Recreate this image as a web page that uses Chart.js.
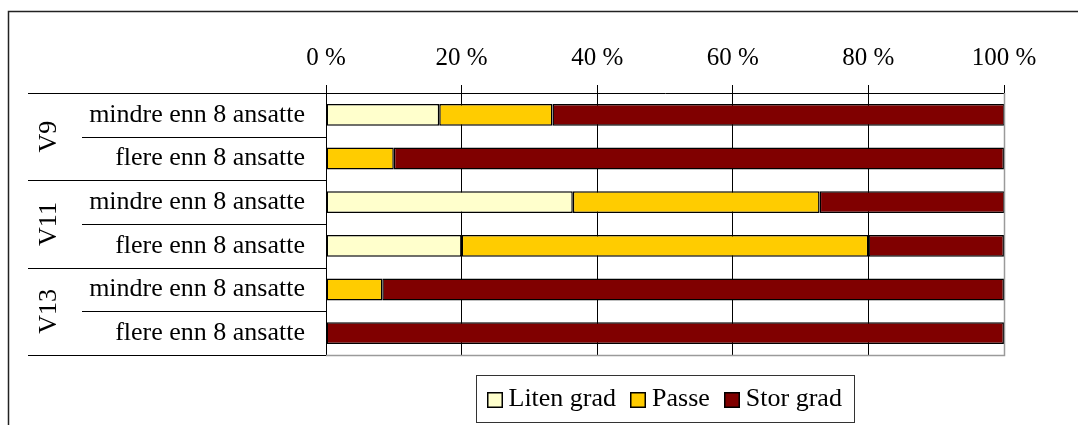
<!DOCTYPE html>
<html>
<head>
<meta charset="utf-8">
<script src="https://cdn.jsdelivr.net/npm/chart.js@4/dist/chart.umd.min.js"></script>
<style>
  html, body { margin: 0; padding: 0; background: #fff; }
  #wrap { width: 1078px; height: 425px; position: relative; }
</style>
</head>
<body>
<div id="wrap"><canvas id="chart" width="1078" height="425"></canvas></div>
<script>
// Rows of the chart, top to bottom
const categories = [
  'mindre enn 8 ansatte', 'flere enn 8 ansatte',
  'mindre enn 8 ansatte', 'flere enn 8 ansatte',
  'mindre enn 8 ansatte', 'flere enn 8 ansatte'
];
// Each group spans two consecutive rows
const groups = ['V9', 'V11', 'V13'];
const rowsPerGroup = 2;

// Share of answers (%) per row
const litenGrad = [16.7, 0, 36.4, 20, 0, 0];
const passe     = [16.7, 10, 36.4, 60, 8.3, 0];
const storGrad  = [66.7, 90, 27.3, 20, 91.7, 100];

const seriesNames = ['Liten grad', 'Passe', 'Stor grad'];
const xTickValues = [0, 20, 40, 60, 80, 100];
const tickSuffix = ' %';

const FONT = "'Liberation Serif', 'Times New Roman', serif";
const LABEL_SIZE = 26;
const TICK_SIZE = 25;

Chart.defaults.font.family = FONT;
Chart.defaults.font.size = LABEL_SIZE;
Chart.defaults.color = '#000';

// Outer frame, row/group separators, rotated group names and boxed legend
const decorations = {
  id: 'decorations',
  afterDraw(chart) {
    const { ctx } = chart;
    const x = chart.scales.x;
    const y = chart.scales.y;
    const n = chart.data.labels.length;
    const step = y.getPixelForValue(1) - y.getPixelForValue(0);
    ctx.save();

    // frame around the whole figure
    ctx.strokeStyle = '#222';
    ctx.lineWidth = 1.5;
    ctx.beginPath();
    ctx.moveTo(8.5, 440);
    ctx.lineTo(8.5, 11.5);
    ctx.lineTo(1090, 11.5);
    ctx.stroke();

    // plot border on the right and bottom
    ctx.strokeStyle = '#9a9a9a';
    ctx.lineWidth = 1.5;
    ctx.beginPath();
    ctx.moveTo(Math.round(x.right) + 0.5, y.top);
    ctx.lineTo(Math.round(x.right) + 0.5, Math.round(y.bottom) + 0.5);
    ctx.lineTo(x.left, Math.round(y.bottom) + 0.5);
    ctx.stroke();

    // separators between rows and groups in the label column
    ctx.strokeStyle = '#000';
    ctx.lineWidth = 1;
    for (let i = 0; i <= n; i++) {
      const yy = Math.round(y.getPixelForValue(Math.min(i, n - 1)) + (i === n ? step / 2 : -step / 2)) + 0.5;
      const startX = (i % rowsPerGroup === 0) ? 28 : 82;
      ctx.beginPath();
      ctx.moveTo(startX, yy);
      ctx.lineTo(x.left, yy);
      ctx.stroke();
    }

    // group names, rotated
    ctx.fillStyle = '#000';
    ctx.font = LABEL_SIZE + 'px ' + FONT;
    ctx.textAlign = 'center';
    ctx.textBaseline = 'middle';
    groups.forEach((g, gi) => {
      const first = gi * rowsPerGroup;
      const last = first + rowsPerGroup - 1;
      const cy = (y.getPixelForValue(first) + y.getPixelForValue(last)) / 2;
      ctx.save();
      ctx.translate(49, cy);
      ctx.rotate(-Math.PI / 2);
      ctx.fillText(g, 0, 0);
      ctx.restore();
    });

    // legend: swatch + name per dataset, framed, centred under the plot
    const swatch = 16, swatchGap = 6, itemGap = 14, padL = 10, padR = 13;
    const items = chart.data.datasets.map(ds => ({
      text: ds.label,
      fill: ds.backgroundColor,
      stroke: ds.borderColor,
      w: ctx.measureText(ds.label).width
    }));
    const inner = items.reduce((s, it) => s + swatch + swatchGap + it.w, 0) + itemGap * (items.length - 1);
    const boxW = padL + inner + padR;
    const boxLeft = Math.round((x.left + x.right) / 2 - boxW / 2) + 0.5;
    const boxTop = 375.5, boxBottom = 422.5;
    const cy = 399.5;
    ctx.strokeStyle = '#333';
    ctx.lineWidth = 1;
    ctx.strokeRect(boxLeft, boxTop, Math.round(boxW), boxBottom - boxTop);
    let cx = boxLeft + padL;
    ctx.textAlign = 'left';
    ctx.textBaseline = 'middle';
    items.forEach(it => {
      const sx = Math.round(cx), sy = Math.round(cy - swatch / 2);
      ctx.fillStyle = it.fill;
      ctx.fillRect(sx, sy, swatch, swatch);
      ctx.strokeStyle = '#000';
      ctx.lineWidth = 1.5;
      ctx.strokeRect(sx + 0.75, sy + 0.75, swatch - 1.5, swatch - 1.5);
      ctx.fillStyle = '#000';
      ctx.fillText(it.text, cx + swatch + swatchGap, cy);
      cx += swatch + swatchGap + it.w + itemGap;
    });
    ctx.restore();
  }
};

const seriesValues = [litenGrad, passe, storGrad];
const seriesColors = ['#FFFFCC', '#FFCC00', '#800000'];

new Chart(document.getElementById('chart'), {
  type: 'bar',
  data: {
    labels: categories,
    datasets: seriesNames.map((name, i) => ({
      label: name,
      data: seriesValues[i],
      backgroundColor: seriesColors[i],
      borderColor: '#000',
      borderWidth: 1.5,
      borderSkipped: false,
      xAxisID: 'x',
      yAxisID: 'y',
      barPercentage: 0.5,
      categoryPercentage: 1.0
    }))
  },
  options: {
    indexAxis: 'y',
    responsive: false,
    animation: false,
    devicePixelRatio: 1,
    layout: { padding: { left: 0, right: 74, top: 0, bottom: 70 } },
    scales: {
      x: {
        type: 'linear',
        position: 'top',
        stacked: true,
        min: 0,
        max: 100,
        afterBuildTicks(scale) {
          scale.ticks = xTickValues.map(v => ({ value: v }));
        },
        ticks: {
          callback: v => v + tickSuffix,
          font: { size: TICK_SIZE, family: FONT },
          color: '#000',
          padding: 12,
          maxRotation: 0
        },
        grid: {
          color: c => (c.index === xTickValues.length - 1 ? '#9a9a9a' : '#000'),
          lineWidth: 1,
          tickLength: 8,
          tickColor: '#000',
          drawOnChartArea: true
        },
        border: { display: true, color: '#000', width: 1 },
        afterFit(scale) { scale.height = 93; }
      },
      y: {
        type: 'category',
        stacked: true,
        offset: true,
        grid: { display: false, drawTicks: false },
        border: { display: true, color: '#000', width: 1 },
        ticks: {
          font: { size: LABEL_SIZE, family: FONT },
          color: '#000',
          padding: 21,
          autoSkip: false
        },
        afterFit(scale) { scale.width = 326; }
      }
    },
    plugins: {
      tooltip: { enabled: false },
      legend: { display: false }
    }
  },
  plugins: [decorations]
});
</script>
</body>
</html>
